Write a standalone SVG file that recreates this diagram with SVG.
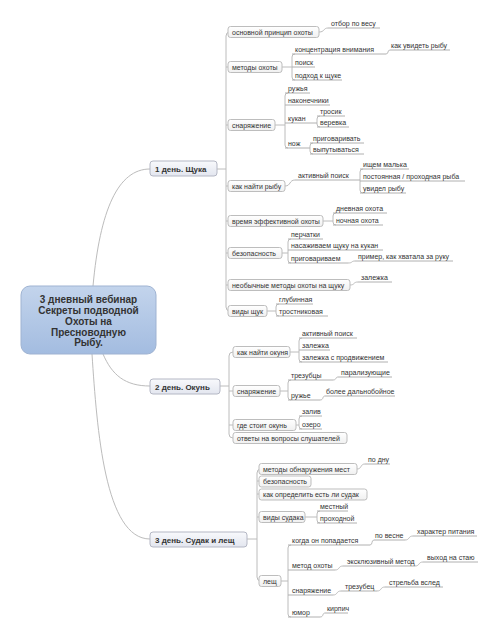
<svg xmlns="http://www.w3.org/2000/svg" width="500" height="641" viewBox="0 0 500 641">
<defs>
<linearGradient id="gRoot" x1="0" y1="0" x2="0" y2="1"><stop offset="0" stop-color="#c3d4ec"/><stop offset="1" stop-color="#a3bce0"/></linearGradient>
<linearGradient id="gBr" x1="0" y1="0" x2="0" y2="1"><stop offset="0" stop-color="#f8f9fc"/><stop offset="1" stop-color="#e3e6ef"/></linearGradient>
<linearGradient id="gLf" x1="0" y1="0" x2="0" y2="1"><stop offset="0" stop-color="#ffffff"/><stop offset="1" stop-color="#f0f0f0"/></linearGradient>
</defs>
<style>
.ln{fill:none;stroke:#bcbcbc;stroke-width:1}
.ul{stroke:#b0b0b0;stroke-width:1}
.bx{fill:url(#gLf);stroke:#bdbdbd;stroke-width:1}
.br{fill:url(#gBr);stroke:#b4b7c4;stroke-width:1}
.rt{fill:url(#gRoot);stroke:#9fb3d2;stroke-width:1}
text{font-family:"Liberation Sans",Arial,sans-serif;fill:#333}
.t{font-size:7px}
.b{font-size:8px;font-weight:bold}
.r{font-size:10px;font-weight:bold;text-anchor:middle}
</style>
<rect width="500" height="641" fill="#ffffff"/>
<g id="connectors">
<path class="ln" d="M93,286 C100,210 118,169 150,169"/>
<path class="ln" d="M103,354 C112,375 125,386 150,386"/>
<path class="ln" d="M92,354 C97,430 105,539 150,539"/>
<path class="ln" d="M217,169 H226 M230,32 Q226,32 226,36 V307 Q226,311 230,311 M226,67 H228 M226,125 H228 M226,186 H228 M226,221 H228 M226,253 H228 M226,285 H228"/>
<path class="ln" d="M319,32 C325,32 323,28 328,28"/>
<path class="ln" d="M282,67 H292 M295,54 Q292,54 292,57 V77 Q292,80 295,80"/>
<path class="ln" d="M386,54 C389,54 387,50 390,50"/>
<path class="ln" d="M275,125 H285 M288,93 Q285,93 285,96 V145 Q285,148 288,148"/>
<path class="ln" d="M320,116 Q317,116 317,119 V124 Q317,127 320,127"/>
<path class="ln" d="M313,143 Q310,143 310,146 V151 Q310,154 313,154"/>
<path class="ln" d="M285,186 C291,186 289,180 295,180"/>
<path class="ln" d="M363,169 Q360,169 360,172 V190 Q360,193 363,193"/>
<path class="ln" d="M323,221 H333 M336,213 Q333,213 333,216 V222 Q333,225 336,225"/>
<path class="ln" d="M282,253 H288 M291,239 Q288,239 288,242 V260 Q288,263 291,263"/>
<path class="ln" d="M348,263 C353,263 351,261 355,261"/>
<path class="ln" d="M350,285 C355,285 353,282 358,282"/>
<path class="ln" d="M267,311 H276 M279,304 Q276,304 276,307 V313 Q276,316 279,316"/>
<path class="ln" d="M220,386 H229 M233,352 Q229,352 229,356 V434 Q229,438 233,438 M229,391 H233 M229,425 H233"/>
<path class="ln" d="M290,352 H299 M302,338 Q299,338 299,341 V359 Q299,362 302,362"/>
<path class="ln" d="M280,391 H288 M291,380 Q288,380 288,383 V397 Q288,400 291,400"/>
<path class="ln" d="M333,380 C337,380 335,377 338,377"/>
<path class="ln" d="M320,400 C324,400 322,396 325,396"/>
<path class="ln" d="M296,425 H299 M302,416 Q299,416 299,419 V426 Q299,429 302,429"/>
<path class="ln" d="M247,539 H257 M261,469 Q257,469 257,473 V577 Q257,581 261,581 M257,481 H259 M257,494 H259 M257,517 H259"/>
<path class="ln" d="M357,469 C362,469 360,464 365,464"/>
<path class="ln" d="M305,517 H317 M320,511 Q317,511 317,514 V520 Q317,523 320,523"/>
<path class="ln" d="M281,581 H288 M291,545 Q288,545 288,548 V614 Q288,617 291,617"/>
<path class="ln" d="M370,545 C373,545 371,540 374,540"/>
<path class="ln" d="M405,540 C410,540 408,536 413,536"/>
<path class="ln" d="M335,570 C340,570 338,566 343,566"/>
<path class="ln" d="M415,566 C420,566 418,562 423,562"/>
<path class="ln" d="M333,595 C338,595 336,591 341,591"/>
<path class="ln" d="M377,591 C382,591 380,587 385,587"/>
<path class="ln" d="M320,617 C324,617 322,613 325,613"/>
</g>
<g id="root"><rect class="rt" x="21" y="286" width="135" height="68" rx="9"/>
<text class="r" x="88.5" y="302.5">3 дневный вебинар</text><text class="r" x="88.5" y="313.5">Секреты подводной</text><text class="r" x="88.5" y="324.5">Охоты на</text><text class="r" x="88.5" y="335.5">Пресноводную</text><text class="r" x="88.5" y="346">Рыбу.</text></g>
<g id="day1"><rect class="br" x="150" y="161" width="67" height="15" rx="3"/><text class="b" x="155" y="171.5">1 день. Щука</text></g>
<g id="day2"><rect class="br" x="150" y="379" width="70" height="15" rx="3"/><text class="b" x="155" y="389.5">2 день. Окунь</text></g>
<g id="day3"><rect class="br" x="150" y="532" width="97" height="15" rx="3"/><text class="b" x="155" y="542.5">3 день. Судак и лещ</text></g>

<g id="n1a"><rect class="bx" x="228" y="26.5" width="91" height="11" rx="2.5"/><text class="t" x="232" y="34.5">основной принцип охоты</text></g>
<g id="n1a1"><line class="ul" x1="328" y1="28" x2="380" y2="28"/><text class="t" x="331" y="25.5">отбор по весу</text></g>
<g id="n1b"><rect class="bx" x="228" y="61.5" width="54" height="11" rx="2.5"/><text class="t" x="232" y="69.5">методы охоты</text></g>
<g id="n1b1"><line class="ul" x1="292" y1="54" x2="386" y2="54"/><text class="t" x="295" y="51.5">концентрация внимания</text></g>
<g id="n1b1a"><line class="ul" x1="390" y1="50" x2="450" y2="50"/><text class="t" x="391" y="47.5">как увидеть рыбу</text></g>
<g id="n1b2"><line class="ul" x1="292" y1="67" x2="315" y2="67"/><text class="t" x="295" y="64.5">поиск</text></g>
<g id="n1b3"><line class="ul" x1="292" y1="80" x2="342" y2="80"/><text class="t" x="295" y="77.5">подход к щуке</text></g>
<g id="n1c"><rect class="bx" x="228" y="119.5" width="47" height="11" rx="2.5"/><text class="t" x="232" y="127.5">снаряжение</text></g>
<g id="n1c1"><line class="ul" x1="285" y1="93" x2="310" y2="93"/><text class="t" x="288" y="90.5">ружья</text></g>
<g id="n1c2"><line class="ul" x1="285" y1="105" x2="330" y2="105"/><text class="t" x="288" y="102.5">наконечники</text></g>
<g id="n1c3"><line class="ul" x1="285" y1="123" x2="317" y2="123"/><text class="t" x="288" y="120.5">кукан</text></g>
<g id="n1c3a"><line class="ul" x1="317" y1="116" x2="345" y2="116"/><text class="t" x="320" y="113.5">тросик</text></g>
<g id="n1c3b"><line class="ul" x1="317" y1="127" x2="349" y2="127"/><text class="t" x="320" y="124.5">веревка</text></g>
<g id="n1c4"><line class="ul" x1="285" y1="148" x2="310" y2="148"/><text class="t" x="288" y="145.5">нож</text></g>
<g id="n1c4a"><line class="ul" x1="310" y1="143" x2="364" y2="143"/><text class="t" x="313" y="140.5">приговаривать</text></g>
<g id="n1c4b"><line class="ul" x1="310" y1="154" x2="364" y2="154"/><text class="t" x="313" y="151.5">выпутываться</text></g>
<g id="n1d"><rect class="bx" x="228" y="180.5" width="57" height="11" rx="2.5"/><text class="t" x="232" y="188.5">как найти рыбу</text></g>
<g id="n1d1"><line class="ul" x1="295" y1="180" x2="360" y2="180"/><text class="t" x="298" y="177.5">активный поиск</text></g>
<g id="n1d1a"><line class="ul" x1="360" y1="169" x2="409" y2="169"/><text class="t" x="363" y="166.5">ищем малька</text></g>
<g id="n1d1b"><line class="ul" x1="360" y1="181" x2="465" y2="181"/><text class="t" x="363" y="178.5">постоянная / проходная рыба</text></g>
<g id="n1d1c"><line class="ul" x1="360" y1="193" x2="406" y2="193"/><text class="t" x="363" y="190.5">увидел рыбу</text></g>
<g id="n1e"><rect class="bx" x="228" y="215.5" width="95" height="11" rx="2.5"/><text class="t" x="232" y="223.5">время эффективной охоты</text></g>
<g id="n1e1"><line class="ul" x1="333" y1="213" x2="387" y2="213"/><text class="t" x="336" y="210.5">дневная охота</text></g>
<g id="n1e2"><line class="ul" x1="333" y1="225" x2="383" y2="225"/><text class="t" x="336" y="222.5">ночная охота</text></g>
<g id="n1f"><rect class="bx" x="228" y="247.5" width="54" height="11" rx="2.5"/><text class="t" x="232" y="255.5">безопасность</text></g>
<g id="n1f1"><line class="ul" x1="288" y1="239" x2="323" y2="239"/><text class="t" x="291" y="236.5">перчатки</text></g>
<g id="n1f2"><line class="ul" x1="288" y1="250" x2="383" y2="250"/><text class="t" x="291" y="247.5">насаживаем щуку на кукан</text></g>
<g id="n1f3"><line class="ul" x1="288" y1="263" x2="348" y2="263"/><text class="t" x="291" y="260.5">приговариваем</text></g>
<g id="n1f3a"><line class="ul" x1="355" y1="261" x2="453" y2="261"/><text class="t" x="358" y="258.5">пример, как хватала за руку</text></g>
<g id="n1g"><rect class="bx" x="228" y="279.5" width="122" height="11" rx="2.5"/><text class="t" x="232" y="287.5">необычные методы охоты на щуку</text></g>
<g id="n1g1"><line class="ul" x1="358" y1="282" x2="392" y2="282"/><text class="t" x="361" y="279.5">залежка</text></g>
<g id="n1h"><rect class="bx" x="228" y="305.5" width="39" height="11" rx="2.5"/><text class="t" x="232" y="313.5">виды щук</text></g>
<g id="n1h1"><line class="ul" x1="276" y1="304" x2="313" y2="304"/><text class="t" x="279" y="301.5">глубинная</text></g>
<g id="n1h2"><line class="ul" x1="276" y1="316" x2="328" y2="316"/><text class="t" x="279" y="313.5">тростниковая</text></g>

<g id="n2a"><rect class="bx" x="233" y="346.5" width="57" height="11" rx="2.5"/><text class="t" x="237" y="354.5">как найти окуня</text></g>
<g id="n2a1"><line class="ul" x1="299" y1="338" x2="357" y2="338"/><text class="t" x="302" y="335.5">активный поиск</text></g>
<g id="n2a2"><line class="ul" x1="299" y1="350" x2="330" y2="350"/><text class="t" x="302" y="347.5">залежка</text></g>
<g id="n2a3"><line class="ul" x1="299" y1="362" x2="388" y2="362"/><text class="t" x="302" y="359.5">залежка с продвижением</text></g>
<g id="n2b"><rect class="bx" x="233" y="385.5" width="47" height="11" rx="2.5"/><text class="t" x="237" y="393.5">снаряжение</text></g>
<g id="n2b1"><line class="ul" x1="288" y1="380" x2="333" y2="380"/><text class="t" x="291" y="377.5">трезубцы</text></g>
<g id="n2b1a"><line class="ul" x1="338" y1="377" x2="392" y2="377"/><text class="t" x="341" y="374.5">парализующие</text></g>
<g id="n2b2"><line class="ul" x1="288" y1="400" x2="320" y2="400"/><text class="t" x="291" y="397.5">ружье</text></g>
<g id="n2b2a"><line class="ul" x1="325" y1="396" x2="395" y2="396"/><text class="t" x="326" y="393.5">более дальнобойное</text></g>
<g id="n2c"><rect class="bx" x="233" y="419.5" width="63" height="11" rx="2.5"/><text class="t" x="237" y="427.5">где стоит окунь</text></g>
<g id="n2c1"><line class="ul" x1="299" y1="416" x2="322" y2="416"/><text class="t" x="302" y="413.5">залив</text></g>
<g id="n2c2"><line class="ul" x1="299" y1="429" x2="322" y2="429"/><text class="t" x="302" y="426.5">озеро</text></g>
<g id="n2d"><rect class="bx" x="233" y="432.5" width="114" height="11" rx="2.5"/><text class="t" x="237" y="440.5">ответы на вопросы слушателей</text></g>

<g id="n3a"><rect class="bx" x="259" y="463.5" width="98" height="11" rx="2.5"/><text class="t" x="263" y="471.5">методы обнаружения мест</text></g>
<g id="n3a1"><line class="ul" x1="365" y1="464" x2="390" y2="464"/><text class="t" x="368" y="461.5">по дну</text></g>
<g id="n3b"><rect class="bx" x="259" y="476" width="52" height="11" rx="2.5"/><text class="t" x="263" y="484">безопасность</text></g>
<g id="n3c"><rect class="bx" x="259" y="489" width="108" height="11" rx="2.5"/><text class="t" x="263" y="497">как определить есть ли судак</text></g>
<g id="n3d"><rect class="bx" x="259" y="511.5" width="46" height="11" rx="2.5"/><text class="t" x="263" y="519.5">виды судака</text></g>
<g id="n3d1"><line class="ul" x1="317" y1="511" x2="348" y2="511"/><text class="t" x="320" y="508.5">местный</text></g>
<g id="n3d2"><line class="ul" x1="317" y1="523" x2="357" y2="523"/><text class="t" x="320" y="520.5">проходной</text></g>
<g id="n3e"><rect class="bx" x="259" y="575.5" width="22" height="11" rx="2.5"/><text class="t" x="263" y="583.5">лещ</text></g>
<g id="n3e1"><line class="ul" x1="288" y1="545" x2="370" y2="545"/><text class="t" x="292" y="542.5">когда он попадается</text></g>
<g id="n3e1a"><line class="ul" x1="374" y1="540" x2="405" y2="540"/><text class="t" x="375" y="537.5">по весне</text></g>
<g id="n3e1a1"><line class="ul" x1="413" y1="536" x2="477" y2="536"/><text class="t" x="417" y="533.5">характер питания</text></g>
<g id="n3e2"><line class="ul" x1="288" y1="570" x2="335" y2="570"/><text class="t" x="292" y="567.5">метод охоты</text></g>
<g id="n3e2a"><line class="ul" x1="343" y1="566" x2="415" y2="566"/><text class="t" x="347" y="563.5">эксклюзивный метод</text></g>
<g id="n3e2a1"><line class="ul" x1="423" y1="562" x2="478" y2="562"/><text class="t" x="427" y="559.5">выход на стаю</text></g>
<g id="n3e3"><line class="ul" x1="288" y1="595" x2="333" y2="595"/><text class="t" x="292" y="592.5">снаряжение</text></g>
<g id="n3e3a"><line class="ul" x1="341" y1="591" x2="377" y2="591"/><text class="t" x="345" y="588.5">трезубец</text></g>
<g id="n3e3a1"><line class="ul" x1="385" y1="587" x2="443" y2="587"/><text class="t" x="389" y="584.5">стрельба вслед</text></g>
<g id="n3e4"><line class="ul" x1="288" y1="617" x2="320" y2="617"/><text class="t" x="292" y="614.5">юмор</text></g>
<g id="n3e4a"><line class="ul" x1="325" y1="613" x2="348" y2="613"/><text class="t" x="327" y="610.5">кирпич</text></g>
</svg>
